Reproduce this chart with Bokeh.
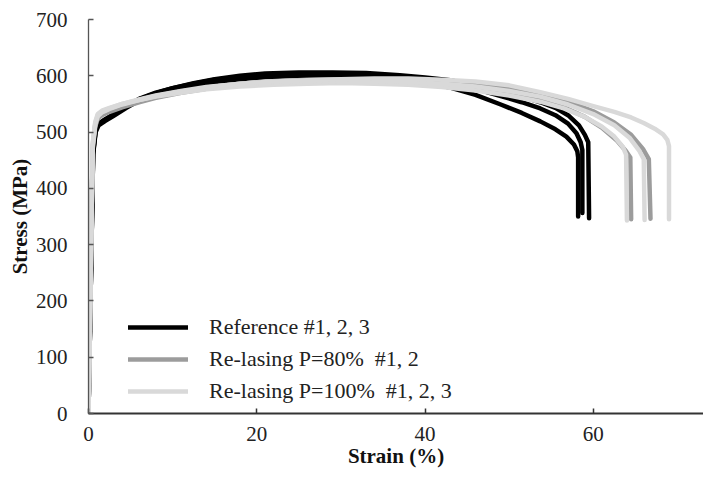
from bokeh.plotting import figure
from bokeh.models import Range1d, Legend, LegendItem
from bokeh.embed import file_html
from bokeh.resources import INLINE

# ---- data ----
ref1_strain = [0, 0.55, 0.85, 1.2, 2.0, 3.0, 4.5, 6.0, 8.0, 10.0, 12.5, 15.0, 18.0, 21.0, 25.0, 29.0, 33.0, 37.0, 40.0, 43.0, 46.0, 49.0, 51.5, 53.7, 55.5, 56.8, 57.7, 58.1, 58.2, 58.2]
ref1_stress = [0, 460, 500, 512, 520, 529, 543, 556, 566, 574, 582, 589, 594, 598, 600, 600, 598, 593, 587, 579, 566, 549, 534, 519, 505, 492, 478, 466, 455, 350]

ref2_strain = [0, 0.55, 0.85, 1.2, 2.0, 3.0, 4.5, 6.0, 8.0, 10.0, 12.5, 15.0, 18.0, 21.0, 25.0, 29.0, 33.0, 37.0, 40.0, 43.0, 46.0, 49.0, 51.5, 53.7, 55.5, 57.0, 58.0, 58.5, 58.7, 58.7]
ref2_stress = [0, 465, 505, 515, 523, 532, 546, 559, 570, 578, 586, 593, 598, 602, 604, 604, 602, 598, 593, 587, 577, 564, 553, 542, 530, 515, 498, 482, 468, 356]

ref3_strain = [0, 0.55, 0.85, 1.2, 2.0, 3.0, 4.5, 6.0, 8.0, 10.0, 12.5, 15.0, 18.0, 21.0, 25.0, 29.0, 33.0, 37.0, 40.0, 43.0, 46.0, 49.0, 51.5, 53.7, 55.5, 57.0, 58.3, 59.0, 59.4, 59.5]
ref3_stress = [0, 462, 503, 514, 522, 531, 545, 558, 569, 578, 587, 594, 600, 604, 606, 606, 605, 601, 597, 592, 583, 572, 563, 553, 543, 530, 512, 495, 482, 347]

p80_1_strain = [0, 0.5, 0.8, 1.1, 1.6, 2.5, 4.0, 6.0, 8.0, 11.0, 14.0, 18.0, 22.0, 26.0, 30.0, 34.0, 38.0, 42.0, 46.0, 50.0, 53.7, 56.5, 59.0, 61.0, 62.8, 63.9, 64.4, 64.5]
p80_1_stress = [0, 470, 510, 524, 530, 536, 544, 553, 561, 570, 577, 584, 588, 590, 591, 590, 588, 584, 578, 569, 557, 544, 527, 508, 485, 466, 455, 345]

p80_2_strain = [0, 0.5, 0.8, 1.1, 1.6, 2.5, 4.0, 6.0, 8.0, 11.0, 14.0, 18.0, 22.0, 26.0, 30.0, 34.0, 38.0, 42.0, 46.0, 50.0, 53.7, 57.0, 60.0, 62.5, 64.5, 65.9, 66.6, 66.8]
p80_2_stress = [0, 472, 512, 526, 532, 539, 547, 555, 562, 571, 579, 586, 590, 593, 594, 594, 592, 589, 584, 577, 567, 554, 537, 517, 495, 470, 452, 346]

p100_1_strain = [0, 0.5, 0.8, 1.1, 1.6, 2.5, 4.0, 6.0, 8.0, 11.0, 14.0, 18.0, 22.0, 26.0, 30.0, 34.0, 38.0, 42.0, 46.0, 50.0, 53.7, 56.5, 59.0, 61.0, 62.5, 63.5, 63.9, 64.0]
p100_1_stress = [0, 480, 518, 532, 538, 543, 550, 557, 563, 570, 576, 581, 584, 586, 587, 586, 584, 580, 574, 565, 554, 542, 527, 510, 492, 474, 460, 343]

p100_2_strain = [0, 0.5, 0.8, 1.1, 1.6, 2.5, 4.0, 6.0, 8.0, 11.0, 14.0, 18.0, 22.0, 26.0, 30.0, 34.0, 38.0, 42.0, 46.0, 50.0, 53.7, 57.0, 60.0, 62.5, 64.3, 65.5, 66.0, 66.1]
p100_2_stress = [0, 478, 515, 528, 535, 541, 549, 557, 564, 572, 578, 584, 588, 590, 591, 591, 589, 586, 581, 573, 563, 549, 532, 512, 490, 466, 452, 344]

p100_3_strain = [0, 0.5, 0.8, 1.1, 1.6, 2.5, 4.0, 6.0, 8.0, 11.0, 14.0, 18.0, 22.0, 26.0, 30.0, 34.0, 38.0, 42.0, 46.0, 50.0, 53.7, 57.0, 60.0, 62.5, 64.5, 66.0, 67.3, 68.3, 68.8, 69.0, 69.0]
p100_3_stress = [0, 476, 514, 530, 536, 542, 550, 558, 565, 573, 580, 586, 590, 592, 594, 595, 595, 593, 590, 583, 571, 559, 546, 536, 526, 516, 506, 496, 486, 475, 345]

series_labels = ["Reference #1, 2, 3", "Re-lasing P=80%  #1, 2", "Re-lasing P=100%  #1, 2, 3"]
series_colors = ["#000000", "#9c9c9c", "#d9d9d9"]
x_ticks = [0, 20, 40, 60]
y_ticks = [0, 100, 200, 300, 400, 500, 600, 700]

FONT = "Liberation Serif"

p = figure(width=703, height=470, output_backend="svg", toolbar_location=None,
           x_range=Range1d(0, 73.1), y_range=Range1d(0, 700),
           min_border_left=88, min_border_right=0, min_border_top=19, min_border_bottom=57)
p.outline_line_color = None
p.xgrid.visible = False
p.ygrid.visible = False
p.background_fill_color = "white"

groups = [
    [(ref1_strain, ref1_stress), (ref2_strain, ref2_stress), (ref3_strain, ref3_stress)],
    [(p80_1_strain, p80_1_stress), (p80_2_strain, p80_2_stress)],
    [(p100_1_strain, p100_1_stress), (p100_2_strain, p100_2_stress), (p100_3_strain, p100_3_stress)],
]

items = []
for label, color, curves in zip(series_labels, series_colors, groups):
    rs = []
    for xs, ys in curves:
        r = p.line(xs, ys, line_color=color, line_width=4.5, line_join="round", line_cap="round")
        rs.append(r)
    items.append(LegendItem(label=label, renderers=[rs[0]]))

legend = Legend(items=items, location=(40, 9), orientation="vertical",
                glyph_width=60, glyph_height=22, label_standoff=21, spacing=6,
                padding=0, margin=0, border_line_color=None, background_fill_alpha=0,
                label_text_font=FONT, label_text_font_size="22px", label_text_color="#222222")
p.add_layout(legend)

for ax in (p.xaxis[0], p.yaxis[0]):
    ax.major_tick_in = 5
    ax.major_tick_out = 0
    ax.minor_tick_line_color = None
    ax.major_label_text_font = FONT
    ax.major_label_text_font_size = "21px"
    ax.major_label_text_color = "#222222"
    ax.axis_label_text_font = FONT
    ax.axis_label_text_font_style = "bold"
    ax.axis_label_text_font_size = "21px"
    ax.axis_label_text_color = "#111111"

p.xaxis.ticker = x_ticks
p.yaxis.ticker = y_ticks
p.xaxis.axis_label = "Strain (%)"
p.yaxis.axis_label = "Stress (MPa)"
p.xaxis.axis_line_width = 2
p.xaxis.axis_line_color = "#333333"
p.xaxis.major_tick_line_color = "#333333"
p.xaxis.major_tick_line_width = 1.5
p.yaxis.axis_line_width = 1.3
p.yaxis.axis_line_color = "#555555"
p.yaxis.major_tick_line_color = "#555555"
p.yaxis.major_tick_line_width = 1.3
p.xaxis.major_label_standoff = 13
p.xaxis.axis_label_standoff = 0
p.yaxis.major_label_standoff = 21
p.yaxis.axis_label_standoff = 1

open("out.html", "w").write(file_html(p, INLINE))
